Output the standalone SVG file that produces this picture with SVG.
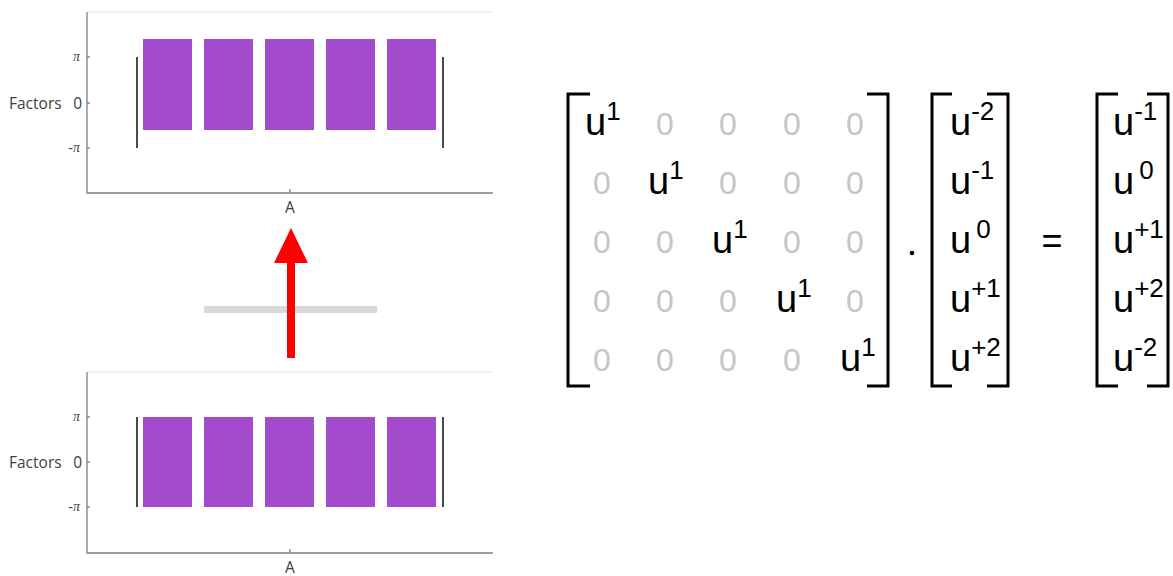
<svg xmlns="http://www.w3.org/2000/svg" width="1173" height="576" viewBox="0 0 1173 576">
<style>
.ax{stroke:#7f7f7f;stroke-width:1.3;fill:none}
.top{stroke:#ebebeb;stroke-width:1.3;fill:none}
.wh{stroke:#4a4a4a;stroke-width:2;fill:none}
.bar{fill:#a24bcc}
.lab{font-family:"Open Sans",sans-serif;font-size:15.5px;fill:#404040}
.pi{font-family:"Liberation Serif",serif;font-style:italic;font-size:14px;fill:#404040}
.br{stroke:#000;stroke-width:3;fill:none}
.u{font-family:"Liberation Sans",Arial,sans-serif;font-size:38px;fill:#000}
.z{font-family:"Liberation Sans",Arial,sans-serif;font-size:32px;fill:#c6c6c6;text-anchor:middle}
.sup{font-size:26px}
</style>
<g id="plot-top">
<line class="top" x1="87" y1="12" x2="493" y2="12"/>
<polyline class="ax" points="87,12 87,193 493,193"/>
<line class="ax" x1="87" y1="57" x2="90" y2="57"/>
<line class="ax" x1="87" y1="103" x2="90" y2="103"/>
<line class="ax" x1="87" y1="148" x2="90" y2="148"/>
<line class="ax" x1="290" y1="193" x2="290" y2="189"/>
<text class="pi" x="80" y="61" text-anchor="end">π</text>
<text class="lab" x="9" y="109">Factors</text>
<text class="lab" x="82" y="109" text-anchor="end">0</text>
<text class="pi" x="80" y="152" text-anchor="end">-π</text>
<text class="lab" x="290" y="213" text-anchor="middle">A</text>
<line class="wh" x1="137" y1="57" x2="137" y2="148"/>
<line class="wh" x1="443" y1="57" x2="443" y2="148"/>
<rect class="bar" x="143" y="39" width="49" height="91"/>
<rect class="bar" x="204" y="39" width="49" height="91"/>
<rect class="bar" x="265" y="39" width="49" height="91"/>
<rect class="bar" x="326" y="39" width="49" height="91"/>
<rect class="bar" x="387" y="39" width="49" height="91"/>
</g>
<g id="plot-bottom">
<line class="top" x1="87" y1="372" x2="493" y2="372"/>
<polyline class="ax" points="87,372 87,553 493,553"/>
<line class="ax" x1="87" y1="417" x2="90" y2="417"/>
<line class="ax" x1="87" y1="462" x2="90" y2="462"/>
<line class="ax" x1="87" y1="507" x2="90" y2="507"/>
<line class="ax" x1="290" y1="553" x2="290" y2="549"/>
<text class="pi" x="80" y="421" text-anchor="end">π</text>
<text class="lab" x="9" y="468">Factors</text>
<text class="lab" x="82" y="468" text-anchor="end">0</text>
<text class="pi" x="80" y="511" text-anchor="end">-π</text>
<text class="lab" x="290" y="573" text-anchor="middle">A</text>
<line class="wh" x1="137" y1="417" x2="137" y2="507"/>
<line class="wh" x1="443" y1="417" x2="443" y2="507"/>
<rect class="bar" x="143" y="417" width="49" height="90"/>
<rect class="bar" x="204" y="417" width="49" height="90"/>
<rect class="bar" x="265" y="417" width="49" height="90"/>
<rect class="bar" x="326" y="417" width="49" height="90"/>
<rect class="bar" x="387" y="417" width="49" height="90"/>
</g>
<g id="connectors">
<rect x="204" y="306" width="173" height="7" fill="#d9d9d9"/>
<rect x="287" y="261" width="8" height="97" fill="#ff0000"/>
<polygon points="274,263 308,263 291,228" fill="#ff0000"/>
</g>
<g id="matrix">
<path class="br" d="M590,94 H568 V386 H590"/>
<path class="br" d="M867,94 H888 V386 H867"/>
<text class="u" x="585" y="135">u<tspan class="sup" dy="-15">1</tspan></text>
<text class="z" x="665" y="135">0</text><text class="z" x="728" y="135">0</text><text class="z" x="792" y="135">0</text><text class="z" x="855" y="135">0</text>
<text class="z" x="602" y="194">0</text>
<text class="u" x="648" y="194">u<tspan class="sup" dy="-15">1</tspan></text>
<text class="z" x="728" y="194">0</text><text class="z" x="792" y="194">0</text><text class="z" x="855" y="194">0</text>
<text class="z" x="602" y="253">0</text><text class="z" x="665" y="253">0</text>
<text class="u" x="712" y="253">u<tspan class="sup" dy="-15">1</tspan></text>
<text class="z" x="792" y="253">0</text><text class="z" x="855" y="253">0</text>
<text class="z" x="602" y="312">0</text><text class="z" x="665" y="312">0</text><text class="z" x="728" y="312">0</text>
<text class="u" x="776" y="312">u<tspan class="sup" dy="-15">1</tspan></text>
<text class="z" x="855" y="312">0</text>
<text class="z" x="602" y="371">0</text><text class="z" x="665" y="371">0</text><text class="z" x="728" y="371">0</text><text class="z" x="792" y="371">0</text>
<text class="u" x="840" y="371">u<tspan class="sup" dy="-15">1</tspan></text>
</g>
<g id="dot">
<circle cx="912" cy="253" r="2.3" fill="#000"/>
</g>
<g id="vector">
<path class="br" d="M952,94 H932 V386 H952"/>
<path class="br" d="M987,94 H1008 V386 H987"/>
<text class="u" x="950" y="135">u<tspan class="sup" dy="-15">-2</tspan></text>
<text class="u" x="950" y="194">u<tspan class="sup" dy="-15">-1</tspan></text>
<text class="u" x="950" y="253">u<tspan class="sup" dy="-15" dx="5">0</tspan></text>
<text class="u" x="950" y="312">u<tspan class="sup" dy="-15">+1</tspan></text>
<text class="u" x="950" y="371">u<tspan class="sup" dy="-15">+2</tspan></text>
</g>
<g id="equals">
<text class="u" x="1052" y="253" text-anchor="middle" style="font-size:36px">=</text>
</g>
<g id="result">
<path class="br" d="M1118,94 H1097 V386 H1118"/>
<path class="br" d="M1147,94 H1168 V386 H1147"/>
<text class="u" x="1113" y="135">u<tspan class="sup" dy="-15">-1</tspan></text>
<text class="u" x="1113" y="194">u<tspan class="sup" dy="-15" dx="5">0</tspan></text>
<text class="u" x="1113" y="253">u<tspan class="sup" dy="-15">+1</tspan></text>
<text class="u" x="1113" y="312">u<tspan class="sup" dy="-15">+2</tspan></text>
<text class="u" x="1113" y="371">u<tspan class="sup" dy="-15">-2</tspan></text>
</g>
</svg>
